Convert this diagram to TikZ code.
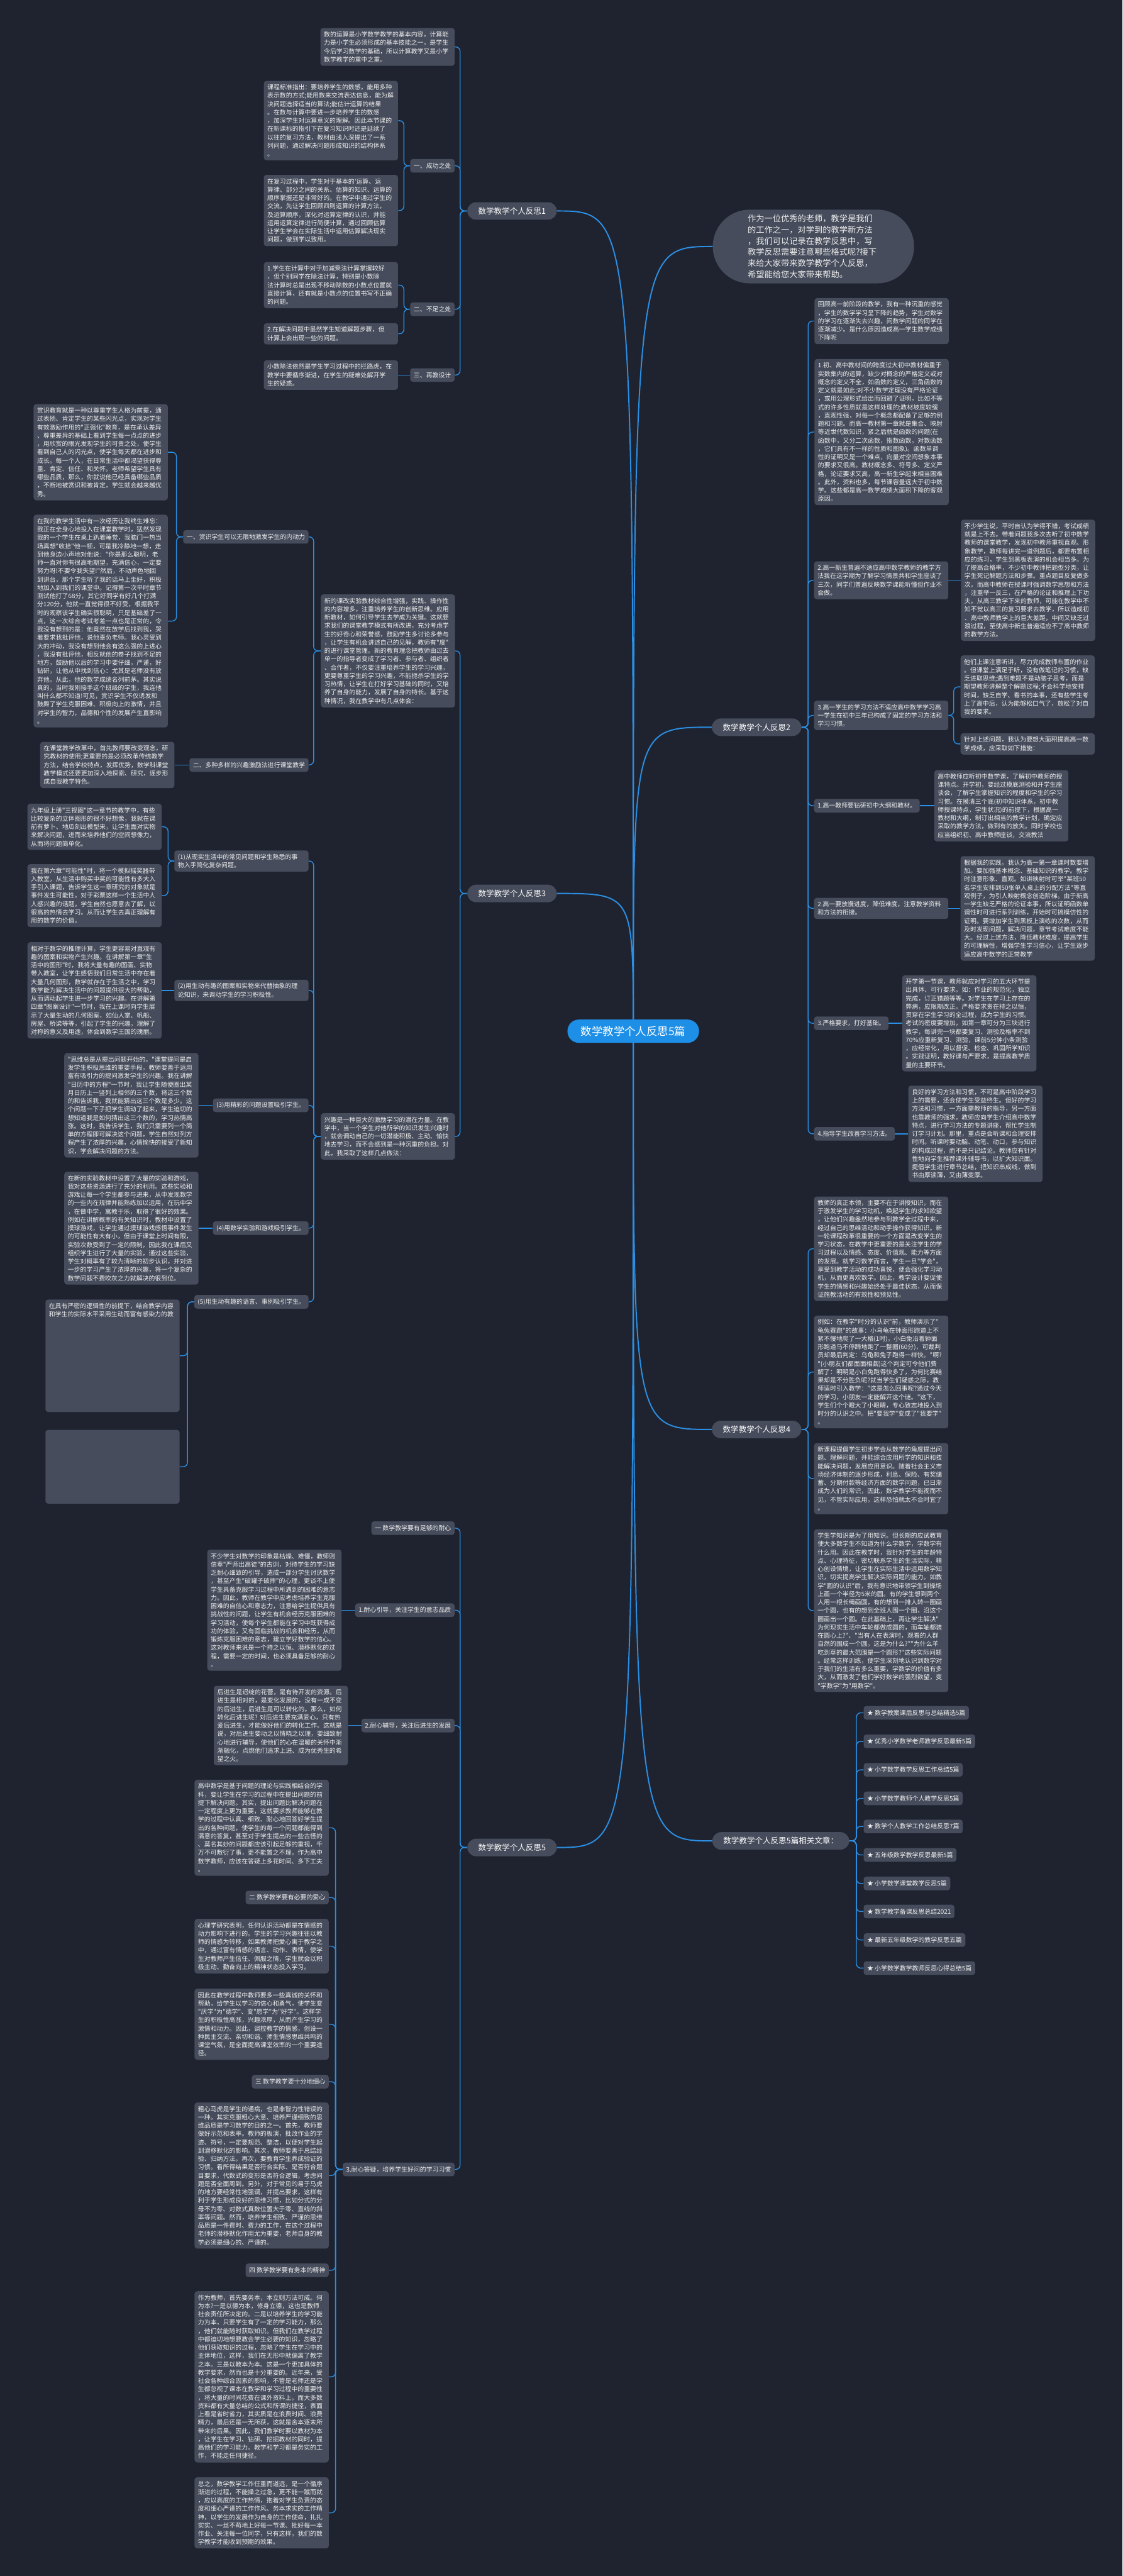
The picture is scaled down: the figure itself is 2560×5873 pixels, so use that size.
\documentclass[tikz,border=0pt]{standalone}
\usepackage{fontspec}
\setmainfont{Noto Sans CJK SC}[Ligatures=TeXOff]
\definecolor{bgcol}{HTML}{1F2330}
\definecolor{boxcol}{HTML}{464C5B}
\definecolor{linecol}{HTML}{2B8FE3}
\definecolor{rootcol}{HTML}{1E8FE6}
\definecolor{txtcol}{HTML}{EEEEEE}
\newcommand{\boxfont}{\fontsize{7.1pt}{9.5pt}\selectfont}
\newcommand{\branchfont}{\fontsize{9pt}{11pt}\selectfont}
\newcommand{\introfont}{\fontsize{9.5pt}{12.65pt}\selectfont}
\newcommand{\rootfont}{\fontsize{12.5pt}{14pt}\selectfont}

\begin{document}
\begin{tikzpicture}[x=0.5pt, y=-0.5pt,
    box/.style={fill=boxcol, text=txtcol, rounded corners=3pt, inner xsep=4pt, inner ysep=4pt, text width=145pt, align=left, font=\boxfont},
    lbl/.style={fill=boxcol, text=txtcol, rounded corners=3pt, inner xsep=4pt, inner ysep=4pt, minimum height=15.5pt, font=\boxfont},
    branch/.style={fill=boxcol, text=white, rounded corners=10pt, inner xsep=12.5pt, minimum height=20pt, font=\branchfont},
    root/.style={fill=rootcol, text=white, rounded corners=13pt, minimum width=150pt, minimum height=26.5pt, font=\rootfont},
    intro/.style={fill=boxcol, text=txtcol, rounded corners=42pt, minimum width=229.5pt, minimum height=84pt, text width=150pt, align=left, font=\introfont},
    conn/.style={draw=linecol, line width=1pt, rounded corners=5pt},
    mainline/.style={draw=linecol, line width=1.4pt}
    ]

    \useasboundingbox (0,0) rectangle (2560,5873);
    \fill[bgcol] (0,0) rectangle (2560,5873);
    \coordinate (hub) at (1444, 2351);

    %Nodes - 反思1
    \node[branch, anchor=east] at (1270, 481) (r1) {数学教学个人反思1};
    \node[box, anchor=east] at (1037, 107) (A) {数的运算是小学数学教学的基本内容，计算能\\力是小学生必须形成的基本技能之一，是学生\\今后学习数学的基础，所以计算教学又是小学\\数学教学的重中之重。};
    \node[lbl, anchor=east] at (1037, 378) (L1a) {一、成功之处};
    \node[box, anchor=east] at (908, 275) (B) {课程标准指出：要培养学生的数感，能用多种\\表示数的方式;能用数来交流表达信息，能为解\\决问题选择适当的算法;能估计运算的结果\\。在数与计算中要进一步培养学生的数感\\，加深学生对运算意义的理解。因此本节课的\\在新课标的指引下在复习知识时还是延续了\\以往的复习方法，教材由浅入深提出了一系\\列问题，通过解决问题形成知识的结构体系\\。};
    \node[box, anchor=east] at (908, 480) (C) {在复习过程中，学生对于基本的'运算、运\\算律、部分之间的关系、估算的知识、运算的\\顺序掌握还是非常好的。在教学中通过学生的\\交流，先让学生回顾四则运算的计算方法，\\及运算顺序，深化对运算定律的认识，并能\\运用运算定律进行简便计算，通过回顾估算\\让学生学会在实际生活中运用估算解决现实\\问题，做到学以致用。};
    \node[lbl, anchor=east] at (1037, 705) (L1b) {二、不足之处};
    \node[box, anchor=east] at (908, 650) (D) {1.学生在计算中对于加减乘法计算掌握较好\\，但个别同学在除法计算，特别是小数除\\法计算时总是出现不移动除数的小数点位置就\\直接计算，还有就是小数点的位置书写不正确\\的问题。};
    \node[box, anchor=east] at (908, 761) (E) {2.在解决问题中虽然学生知道解题步骤，但\\计算上会出现一些的问题。};
    \node[lbl, anchor=east] at (1037, 855) (L1c) {三、再教设计};
    \node[box, anchor=east] at (908, 855) (F) {小数除法依然是学生学习过程中的拦路虎，在\\教学中要循序渐进，在学生的疑难处解开学\\生的疑惑。};

    %Nodes - 反思3
    \node[branch, anchor=east] at (1270, 2037) (r3) {数学教学个人反思3};
    \node[box, anchor=east] at (1038, 1484) (N1) {新的课改实验教材综合性增强，实践、操作性\\的内容增多，注重培养学生的创新思维。应用\\新教材，如何引导学生去学成为关键。这就要\\求我们的课堂教学模式有所改进，充分考虑学\\生的好奇心和荣誉感，鼓励学生多讨论多参与\\，让学生有机会讲述自己的见解，教师有"度"\\的进行课堂管理。新的教育理念把教师由过去\\单一的指导者变成了学习者、参与者、组织者\\、合作者，不仅要注重培养学生的学习兴趣，\\更要尊重学生的学习兴趣，不能扼杀学生的学\\习热情，让学生在打好学习基础的同时，又培\\养了自身的能力，发展了自身的特长。基于这\\种情况，我在教学中有几点体会：};
    \node[lbl, anchor=east] at (704, 1224) (S1) {一、赏识学生可以无限地激发学生的内动力};
    \node[box, anchor=east] at (383, 1031) (S1a) {赏识教育就是一种以尊重学生人格为前提，通\\过表扬、肯定学生的某些闪光点，实现对学生\\有效激励作用的"正强化"教育，是在承认差异\\、尊重差异的基础上看到学生每一点点的进步\\，用欣赏的眼光发现学生的可贵之处，使学生\\看到自己人的闪光点，使学生每天都在进步和\\成长。每一个人，在日常生活中都渴望获得尊\\重、肯定、信任、和关怀。老师希望学生具有\\哪些品质，那么，你就说他已经具备哪些品质\\，不断地被赏识和被肯定，学生就会越来越优\\秀。};
    \node[box, anchor=east] at (383, 1416) (S1b) {在我的教学生活中有一次经历让我终生难忘：\\我正在全身心地投入在课堂教学时，猛然发现\\我的一个学生在桌上趴着睡觉，我脑门一热当\\场真想"收拾"他一顿，可是我冷静地一想，走\\到他身边小声地对他说："你是那么聪明，老\\师一直对你有很高地期望，充满信心，一定要\\努力呀!不要令我失望!"然后，不动声色地回\\到讲台，那个学生听了我的话马上坐好，积极\\地加入到我们的课堂中。记得第一次平时章节\\测试他打了68分，其它好同学有好几个打满\\分120分，他就一直觉得很不好受，根据我平\\时的观察该学生确实很聪明，只是基础差了一\\点，这一次综合考试考差一点也是正常的，令\\我没有想到的是：他竟然在放学后找到我，哭\\着要求我批评他，说他辜负老师。我心灵受到\\大的冲动，我没有想到他会有这么强的上进心\\，我没有批评他，相反就他的卷子找到不足的\\地方，鼓励他以后的学习中要仔细，严谨，好\\钻研，让他从中找到信心：尤其是老师没有放\\弃他。从此，他的数学成绩名列前茅。其实说\\真的，当时我刚接手这个班级的学生，我连他\\叫什么都不知道!可见，赏识学生不仅诱发和\\鼓舞了学生克服困难、积极向上的激情，并且\\对学生的智力，品德和个性的发展产生直影响\\。};
    \node[lbl, anchor=east] at (704, 1744) (S2) {二、多种多样的兴趣激励法进行课堂教学};
    \node[box, anchor=east] at (398, 1744) (S2a) {在课堂教学改革中，首先教师要改变观念，研\\究教材的使用;更重要的是必须改革传统教学\\方法，结合学校特点，发挥优势，数学科课堂\\教学模式还要更加深入地探索、研究，逐步形\\成自我教学特色。};
    \node[box, anchor=east] at (1038, 2591) (N2) {兴趣是一种巨大的激励学习的潜在力量。在教\\学中，当一个学生对他所学的知识发生兴趣时\\，就会调动自己的一切潜能积极、主动、愉快\\地去学习，而不会感到是一种沉重的负担。对\\此，我采取了这样几点做法：};
    \node[box, anchor=east] at (704, 1963) (P1) {(1)从现实生活中的常见问题和学生熟悉的事\\物入手简化复杂问题。};
    \node[box, anchor=east] at (369, 1885) (P1a) {九年级上册"三视图"这一章节的教学中，有些\\比较复杂的立体图形的很不好想像，我就在课\\前有萝卜、地瓜刻出模型来，让学生面对实物\\来解决问题，进而来培养他们的空间想像力，\\从而将问题简单化。};
    \node[box, anchor=east] at (369, 2042) (P1b) {我在第六章"可能性"时，将一个模拟摇奖器带\\入教室，从生活中购买中奖的可能性有多大入\\手引入课题，告诉学生这一章研究的对象就是\\事件发生可能性。对于彩票这样一个生活中人\\人感兴趣的话题，学生自然也愿意去了解，以\\很高的热情去学习。从而让学生去真正理解有\\用的数学的价值。};
    \node[box, anchor=east] at (704, 2258) (P2) {(2)用生动有趣的图案和实物来代替抽象的理\\论知识，来调动学生的学习积极性。};
    \node[box, anchor=east] at (369, 2258) (P2a) {相对于数学的推理计算，学生更容易对直观有\\趣的图案和实物产生兴趣。在讲解第一章"生\\活中的图形"时，我将大量有趣的图画、实物\\带入教室，让学生感悟我们日常生活中存在着\\大量几何图形，数学就存在于生活之中，学习\\数学能为解决生活中的问题提供很大的帮助，\\从而调动起学生进一步学习的兴趣。在讲解第\\四章"图案设计"一节时，我在上课时向学生展\\示了大量生动的几何图案，如仙人掌、帆船、\\房屋、桥梁等等，引起了学生的兴趣，理解了\\对称的意义及用途，体会到数学王国的瑰丽。};
    \node[lbl, anchor=east] at (704, 2520) (P3) {(3)用精彩的问题设置吸引学生。};
    \node[box, anchor=east] at (453, 2520) (P3a) {"思维总是从提出问题开始的。"课堂提问是启\\发学生积极思维的重要手段，教师要善于运用\\富有吸引力的提问激发学生的兴趣。我在讲解\\"日历中的方程"一节时，我让学生随便圈出某\\月日历上一竖列上相邻的三个数，将这三个数\\的和告诉我，我就能猜出这三个数是多少。这\\个问题一下子把学生调动了起来，学生迫切的\\想知道我是如何猜出这三个数的，学习热情高\\涨。这时，我告诉学生，我们只需要列一个简\\单的方程即可解决这个问题，学生自然对列方\\程产生了浓厚的兴趣，心情愉快的接受了新知\\识，学会解决问题的方法。};
    \node[lbl, anchor=east] at (704, 2800) (P4) {(4)用数学实验和游戏吸引学生。};
    \node[box, anchor=east] at (453, 2800) (P4a) {在新的实验教材中设置了大量的实验和游戏，\\我对这些资源进行了充分的利用。这些实验和\\游戏让每一个学生都参与进来，从中发现数学\\的一些内在规律并能熟练加以运用，在玩中学\\，在做中学，寓教于乐，取得了很好的效果。\\例如在讲解概率的有关知识时，教材中设置了\\摸球游戏，让学生通过摸球游戏感悟事件发生\\的可能性有大有小，但由于课堂上时间有限，\\实验次数受到了一定的限制，因此我在课后又\\组织学生进行了大量的实验，通过这些实验，\\学生对概率有了较为清晰的初步认识，并对进\\一步的学习产生了浓厚的兴趣，将一个复杂的\\数学问题不费吹灰之力就解决的很到位。};
    \node[lbl, anchor=east] at (704, 2968) (P5) {(5)用生动有趣的语言、事例吸引学生。};
    \node[box, anchor=east] at (410, 3091) (P5a) {在具有严密的逻辑性的前提下，结合教学内容\\和学生的实际水平采用生动而富有感染力的教\\~\\~\\~\\~\\~\\~\\~\\~\\~\\~\\~};
    \node[box, anchor=east] at (410, 3344) (P5b) {~\\~\\~\\~\\~\\~\\~\\~\\~};

    %Nodes - 反思5
    \node[branch, anchor=east] at (1270, 4212) (r5) {数学教学个人反思5};
    \node[lbl, anchor=east] at (1037, 3484) (F1) {一 数学教学要有足够的耐心};
    \node[lbl, anchor=east] at (1037, 3671) (F2) {1.耐心引导，关注学生的意志品质};
    \node[box, anchor=east] at (779, 3671) (F2a) {不少学生对数学的印象是枯燥、难懂，教师则\\信奉"严师出高徒"的古训，对待学生的学习缺\\乏耐心细致的引导，造成一部分学生讨厌数学\\，甚至产生"破罐子破摔"的心理，更谈不上使\\学生具备克服学习过程中所遇到的困难的意志\\力。因此，教师在教学中应考虑培养学生克服\\困难的自信心和意志力，注意给学生提供具有\\挑战性的问题，让学生有机会经历克服困难的\\学习活动，使每个学生都能在学习中既获得成\\功的体验，又有面临挑战的机会和经历，从而\\锻炼克服困难的意志，建立学好数学的信心。\\这对教师来说是一个持之以恒、潜移默化的过\\程，需要一定的时间，也必须具备足够的耐心\\。};
    \node[lbl, anchor=east] at (1037, 3934) (F3) {2.耐心辅导，关注后进生的发展};
    \node[box, anchor=east] at (794, 3934) (F3a) {后进生是迟绽的花蕾，是有待开发的资源。后\\进生是相对的，是变化发展的，没有一成不变\\的后进生，后进生是可以转化的。那么，如何\\转化后进生呢?~对后进生要充满爱心，只有热\\爱后进生，才能做好他们的转化工作。这就是\\说，对后进生要动之以情晓之以理，要细致耐\\心地进行辅导，使他们的心在温暖的关怀中渐\\渐融化，点燃他们追求上进、成为优秀生的希\\望之火。};
    \node[lbl, anchor=east] at (1037, 4946) (F4) {3.耐心答疑，培养学生好问的学习习惯};
    \node[box, anchor=east] at (750, 4167) (G1) {高中数学是基于问题的理论与实践相结合的学\\科，要让学生在学习的过程中在提出问题的前\\提下解决问题。其实，提出问题比解决问题在\\一定程度上更为重要，这就要求教师能够在教\\学的过程中认真、细致、耐心地回答好学生提\\出的各种问题，使学生的每一个问题都能得到\\满意的答复，甚至对于学生提出的一些古怪的\\、莫名其妙的问题都应该引起足够的重视，千\\万不可敷衍了事，更不能置之不理。作为高中\\数学教师，应该在答疑上多花时间、多下工夫\\。};
    \node[lbl, anchor=east] at (750, 4326) (G2) {二 数学教学要有必要的爱心};
    \node[box, anchor=east] at (750, 4437) (G3) {心理学研究表明，任何认识活动都是在情感的\\动力影响下进行的。学生的学习兴趣往往以教\\师的情感为转移，如果教师把爱心寓于教学之\\中，通过富有情感的语言、动作、表情，使学\\生对教师产生信任、佩服之情，学生就会以积\\极主动、勤奋向上的精神状态投入学习。};
    \node[box, anchor=east] at (750, 4615) (G4) {因此在教学过程中教师要多一些真诚的关怀和\\帮助，给学生以学习的信心和勇气，使学生变\\"厌学"为"德学"、变"愿学"为"好学"。这样学\\生的积极性高涨，兴趣浓厚，从而产生学习的\\激情和动力。因此，调控教学的情感，创设一\\种民主交流、亲切和谐、师生情感思维共鸣的\\课堂气氛，是全面提高课堂效率的一个重要途\\径。};
    \node[lbl, anchor=east] at (750, 4746) (G5) {三 数学教学要十分地细心};
    \node[box, anchor=east] at (750, 4960) (G6) {粗心马虎是学生的通病，也是非智力性错误的\\一种。其实克服粗心大意、培养严谨细致的思\\维品质是学习数学的目的之一。首先，教师要\\做好示范和表率。教师的板演，批改作业的字\\迹、符号，一定要规范、整洁，以便对学生起\\到潜移默化的影响。其次，教师要善于总结经\\验、归纳方法。再次，要教育学生养成验证的\\习惯。看所得结果是否符合实际、是否符合题\\目要求，代数式的变形是否符合逻辑，考虑问\\题是否全面周到。另外，对于常见的易于马虎\\的地方要经常性地强调，并提出要求，这样有\\利于学生形成良好的思维习惯，比如分式的分\\母不为零、对数式真数位置大于零、直线的斜\\率等问题。然而，培养学生细致、严谨的思维\\品质是一件费时、费力的工作，在这个过程中\\老师的潜移默化作用尤为重要，老师自身的教\\学必须是细心的、严谨的。};
    \node[lbl, anchor=east] at (750, 5176) (G7) {四 数学教学要有务本的精神};
    \node[box, anchor=east] at (750, 5419) (G8) {作为教师，首先要务本，本立则万法可成。何\\为本?一是以德为本，修身立德，这也是教师\\社会责任所决定的。二是以培养学生的学习能\\力为本，只要学生有了一定的学习能力，那么\\，他们就能随时获取知识。但我们在教学过程\\中都迫切地想要教会学生必要的知识，忽略了\\他们获取知识的过程，忽略了学生在学习中的\\主体地位，这样，我们在无形中就偏离了教学\\之本。三是以教本为本。这是一个更加具体的\\教学要求，然而也是十分重要的。近年来，受\\社会各种综合因素的影响，不管是老师还是学\\生都忽视了课本在教学和学习过程中的重要性\\，将大量的时间花费在课外资料上。而大多数\\资料都有大量总结的公式和所谓的捷径，表面\\上看是省时省力，其实质是在浪费时间、浪费\\精力，最后还是一无所获，这就是舍本逐末所\\带来的后果。因此，我们教学时要以教材为本\\，让学生在学习、钻研、挖掘教材的同时，提\\高他们的学习能力。教学和学习都是务实的工\\作，不能走任何捷径。};
    \node[box, anchor=east] at (750, 5729) (G9) {总之，数学教学工作任重而道远，是一个循序\\渐进的过程，不能操之过急，更不能一蹴而就\\，应以高度的工作热情，抱着对学生负责的态\\度和细心严谨的工作作风、务本求实的工作精\\神，以学生的发展作为自身的工作使命，扎扎\\实实、一丝不苟地上好每一节课、批好每一本\\作业、关注每一位同学，只有这样，我们的数\\学教学才能收到预期的效果。};

    %Nodes - 右侧
    \node[intro, anchor=west] at (1625, 562) (intro) {作为一位优秀的老师，教学是我们\\的工作之一，对学到的教学新方法\\，我们可以记录在教学反思中，写\\教学反思需要注意哪些格式呢?接下\\来给大家带来数学教学个人反思，\\希望能给您大家带来帮助。};

    \node[branch, anchor=west] at (1623, 1658) (r2) {数学教学个人反思2};
    \node[box, anchor=west] at (1857, 732) (R1) {回顾高一前阶段的教学，我有一种沉重的感觉\\，学生的数学学习呈下降的趋势，学生对数学\\的学习在逐渐失去兴趣，问数学问题的同学在\\逐渐减少。是什么原因造成高一学生数学成绩\\下降呢};
    \node[box, anchor=west] at (1857, 985) (R2) {1.初、高中教材间的跨度过大初中教材偏重于\\实数集内的运算，缺少对概念的严格定义或对\\概念的定义不全，如函数的定义，三角函数的\\定义就是如此;对不少数学定理没有严格论证\\，或用公理形式给出而回避了证明，比如不等\\式的许多性质就是这样处理的;教材坡度较缓\\，直观性强，对每一个概念都配备了足够的例\\题和习题。而高一教材第一章就是集合、映射\\等近世代数知识，紧之后就是函数的问题(在\\函数中，又分二次函数，指数函数，对数函数\\，它们具有不一样的性质和图象)。函数单调\\性的证明又是一个难点，向量对空间想象本事\\的要求又很高。教材概念多、符号多、定义严\\格，论证要求又高，高一新生学起来相当困难\\。此外，资料也多，每节课容量远大于初中数\\学。这些都是高一数学成绩大面积下降的客观\\原因。};
    \node[box, anchor=west] at (1856, 1323) (R3) {2.高一新生普遍不适应高中数学教师的教学方\\法我在这学期为了解学习情景共和学生座谈了\\三次，同学们普遍反映数学课能听懂但作业不\\会做。};
    \node[box, anchor=west] at (2191, 1323) (R3a) {不少学生说，平时自认为学得不错，考试成绩\\就是上不去。带着问题我多次去听了初中数学\\教师的课堂教学，发现初中教师重视直观、形\\象教学，教师每讲完一道例题后，都要布置相\\应的练习，学生到黑板表演的机会相当多。为\\了提高合格率，不少初中教师把题型分类，让\\学生死记解题方法和步骤。重点题目反复做多\\次。而高中教师在授课时强调数学思想和方法\\，注重举一反三，在严格的论证和推理上下功\\夫。从高三教学下来的教师，可能在教学中不\\知不觉以高三的复习要求去教学，所以造成初\\、高中教师教学上的巨大差距，中间又缺乏过\\渡过程，至使高中新生普遍适应不了高中教师\\的教学方法。};
    \node[box, anchor=west] at (1856, 1631) (R4) {3.高一学生的学习方法不适应高中数学学习高\\一学生在初中三年已构成了固定的学习方法和\\学习习惯。};
    \node[box, anchor=west] at (2190, 1566) (R4a) {他们上课注意听讲，尽力完成教师布置的作业\\。但课堂上满足于听，没有做笔记的习惯，缺\\乏进取思维;遇到难题不是动脑子思考，而是\\期望教师讲解整个解题过程;不会科学地安排\\时间，缺乏自学、看书的本事，还有些学生考\\上了高中后，认为能够松口气了，放松了对自\\我的要求。};
    \node[box, anchor=west] at (2190, 1696) (R4b) {针对上述问题，我认为要想大面积提高高一数\\学成绩，应采取如下措施：};
    \node[lbl, anchor=west] at (1856, 1837) (R5) {1.高一教师要钻研初中大纲和教材。};
    \node[box, anchor=west] at (2130, 1837) (R5a) {高中教师应听初中数学课，了解初中教师的授\\课特点。开学初，要经过摸底测验和开学生座\\谈会，了解学生掌握知识的程度和学生的学习\\习惯。在摸清三个底(初中知识体系，初中教\\师授课特点，学生状况)的前提下，根据高一\\教材和大纲，制订出相当的教学计划，确定应\\采取的教学方法，做到有的放矢。同时学校也\\应当组织初、高中教师座谈，交流教法};
    \node[box, anchor=west] at (1856, 2071) (R6) {2.高一要放慢进度，降低难度，注意教学资料\\和方法的衔接。};
    \node[box, anchor=west] at (2190, 2071) (R6a) {根据我的实践，我认为高一第一章课时数要增\\加。要加强基本概念、基础知识的教学。教学\\时注意形象、直观。如讲映射时可举"某班50\\名学生安排到50张单人桌上的分配方法"等直\\观例子，为引人映射概念创造阶梯。由于新高\\一学生缺乏严格的论证本事，所以证明函数单\\调性时可进行系列训练，开始时可搞模仿性的\\证明。要增加学生到黑板上演练的次数，从而\\及时发现问题，解决问题，章节考试难度不能\\大。经过上述方法，降低教材难度，提高学生\\的可理解性，增强学生学习信心，让学生逐步\\适应高中数学的正常教学};
    \node[lbl, anchor=west] at (1856, 2333) (R7) {3.严格要求，打好基础。};
    \node[box, anchor=west] at (2057, 2333) (R7a) {开学第一节课，教师就应对学习的五大环节提\\出具体、可行要求。如：作业的规范化，独立\\完成，订正错题等等。对学生在学习上存在的\\弊病，应限期改正。严格要求贵在持之以恒，\\贯穿在学生学习的全过程，成为学生的习惯。\\考试的密度要增加，如第一章可分为三块进行\\教学，每讲完一块都要复习、测验及格率不到\\70\%应重新复习、测验，课前5分钟小条测验\\，应经常化，用以督促、检查、巩固所学知识\\。实践证明，教好课与严要求，是提高教学质\\量的主要环节。};
    \node[lbl, anchor=west] at (1856, 2585) (R8) {4.指导学生改善学习方法。};
    \node[box, anchor=west] at (2071, 2585) (R8a) {良好的学习方法和习惯，不可是高中阶段学习\\上的需要，还会使学生受益终生。但好的学习\\方法和习惯，一方面需教师的指导，另一方面\\也靠教师的强求。教师应向学生介绍高中数学\\特点，进行学习方法的专题讲座，帮忙学生制\\订学习计划。那里，重点是会听课和合理安排\\时间。听课时要动脑、动笔、动口，参与知识\\的构成过程，而不是只记结论。教师应有针对\\性地向学生推荐课外辅导书，以扩大知识面。\\提倡学生进行章节总结，把知识串成线，做到\\书由厚读薄，又由薄变厚。};

    \node[branch, anchor=west] at (1623, 3259) (r4) {数学教学个人反思4};
    \node[box, anchor=west] at (1856, 2847) (Q1) {教师的真正本领，主要不在于讲授知识，而在\\于激发学生的学习动机，唤起学生的求知欲望\\，让他们兴趣盎然地参与到教学全过程中来，\\经过自己的思维活动和动手操作获得知识。新\\一轮课程改革很重要的一个方面是改变学生的\\学习状态，在教学中更重要的是关注学生的学\\习过程以及情感、态度、价值观、能力等方面\\的发展。就学习数学而言，学生一旦"学会"，\\享受到教学活动的成功喜悦，便会强化学习动\\机，从而更喜欢数学。因此，教学设计要促使\\学生的情感和兴趣始终处于最佳状态，从而保\\证施教活动的有效性和预见性。};
    \node[box, anchor=west] at (1856, 3128) (Q2) {例如：在教学"时分的认识"前，教师演示了"\\龟兔赛跑"的故事：小乌龟在钟面形跑道上不\\紧不慢地爬了一大格(1时)，小白兔沿着钟面\\形跑道马不停蹄地跑了一整圈(60分)，可裁判\\员却最后判定：乌龟和兔子跑得一样快。"啊?\\"(小朋友们都面面相觑)这个判定可令他们费\\解了：明明是小白兔跑得快多了，为何比赛结\\果却是不分胜负呢?就当学生们疑惑之际，教\\师适时引入教学："这是怎么回事呢?通过今天\\的学习，小朋友一定能解开这个谜。"这下，\\学生们个个瞪大了小眼睛，专心致志地投入到\\时分的认识之中。把"要我学"变成了"我要学"\\。};
    \node[box, anchor=west] at (1856, 3371) (Q3) {新课程提倡学生初步学会从数学的角度提出问\\题、理解问题，并能综合应用所学的知识和技\\能解决问题，发展应用意识。随着社会主义市\\场经济体制的逐步形成，利息、保险、有奖储\\蓄、分期付款等经济方面的数学问题，已日渐\\成为人们的常识，因此，数学教学不能视而不\\见，不管实际应用，这样恐怕就太不合时宜了\\。};
    \node[box, anchor=west] at (1856, 3672) (Q4) {学生学知识是为了用知识。但长期的应试教育\\使大多数学生不知道为什么学数学，学数学有\\什么用。因此在教学时，我针对学生的年龄特\\点、心理特征，密切联系学生的生活实际，精\\心创设情境，让学生在实际生活中运用数学知\\识，切实提高学生解决实际问题的能力。如教\\学"圆的认识"后，我有意识地带领学生到操场\\上画一个半径为5米的圆。有的学生想到两个\\人用一根长绳画圆，有的想到一排人转一圈画\\一个圆，也有的想到全班人围一个圈，沿这个\\圈画出一个圆。在此基础上，再让学生解决"\\为何现实生活中车轮都做成圆的，而车轴都装\\在圆心上?"、"当有人在表演时，观看的人群\\自然的围成一个圆，这是为什么?""为什么羊\\吃到草的最大范围是一个圆形?"这些实际问题\\。经常这样训练，使学生深刻地认识到数学对\\于我们的生活有多么重要，学数学的价值有多\\大，从而激发了他们学好数学的强烈欲望，变\\"学数学"为"用数学"。};

    \node[branch, anchor=west] at (1624, 4197) (rel) {数学教学个人反思5篇相关文章：};
    \node[lbl, anchor=west] at (1969, 3905) (k1) {★ 数学教案课后反思与总结精选5篇};
    \node[lbl, anchor=west] at (1969, 3970) (k2) {★ 优秀小学数学老师教学反思最新5篇};
    \node[lbl, anchor=west] at (1969, 4035) (k3) {★ 小学数学教学反思工作总结5篇};
    \node[lbl, anchor=west] at (1969, 4100) (k4) {★ 小学数学教师个人教学反思5篇};
    \node[lbl, anchor=west] at (1969, 4164) (k5) {★ 数学个人教学工作总结反思7篇};
    \node[lbl, anchor=west] at (1969, 4229) (k6) {★ 五年级数学教学反思最新5篇};
    \node[lbl, anchor=west] at (1969, 4294) (k7) {★ 小学数学课堂教学反思5篇};
    \node[lbl, anchor=west] at (1969, 4358) (k8) {★ 数学教学备课反思总结2021};
    \node[lbl, anchor=west] at (1969, 4423) (k9) {★ 最新五年级数学的教学反思五篇};
    \node[lbl, anchor=west] at (1969, 4487) (k10) {★ 小学数学教学教师反思心得总结5篇};

    %Lines - main branches
    \draw[mainline] (hub) .. controls (hub |- r1.east) .. (r1.east);
    \draw[mainline] (hub) .. controls (hub |- r3.east) .. (r3.east);
    \draw[mainline] (hub) .. controls (hub |- r5.east) .. (r5.east);
    \draw[mainline] (hub) .. controls (hub |- intro.west) .. (intro.west);
    \draw[mainline] (hub) .. controls (hub |- r2.west) .. (r2.west);
    \draw[mainline] (hub) .. controls (hub |- r4.west) .. (r4.west);
    \draw[mainline] (hub) .. controls (hub |- rel.west) .. (rel.west);
    \node[root] at (hub) (root) {数学教学个人反思5篇};

    %Lines - 反思1
    \draw[conn] (r1.west) -- ++(-16,0) |- (A.east);
    \draw[conn] (r1.west) -- ++(-16,0) |- (L1a.east);
    \draw[conn] (r1.west) -- ++(-16,0) |- (L1b.east);
    \draw[conn] (r1.west) -- ++(-16,0) |- (L1c.east);
    \draw[conn] (L1a.west) -- ++(-14,0) |- (B.east);
    \draw[conn] (L1a.west) -- ++(-14,0) |- (C.east);
    \draw[conn] (L1b.west) -- ++(-14,0) |- (D.east);
    \draw[conn] (L1b.west) -- ++(-14,0) |- (E.east);
    \draw[conn] (L1c.west) -- (F.east);

    %Lines - 反思3
    \draw[conn] (r3.west) -- ++(-16,0) |- (N1.east);
    \draw[conn] (r3.west) -- ++(-16,0) |- (N2.east);
    \draw[conn] (N1.west) -- ++(-16,0) |- (S1.east);
    \draw[conn] (N1.west) -- ++(-16,0) |- (S2.east);
    \draw[conn] (S1.west) -- ++(-15,0) |- (S1a.east);
    \draw[conn] (S1.west) -- ++(-15,0) |- (S1b.east);
    \draw[conn] (S2.west) -- (S2a.east);
    \draw[conn] (N2.west) -- ++(-16,0) |- (P1.east);
    \draw[conn] (N2.west) -- ++(-16,0) |- (P2.east);
    \draw[conn] (N2.west) -- ++(-16,0) |- (P3.east);
    \draw[conn] (N2.west) -- ++(-16,0) |- (P4.east);
    \draw[conn] (N2.west) -- ++(-16,0) |- (P5.east);
    \draw[conn] (P1.west) -- ++(-14,0) |- (P1a.east);
    \draw[conn] (P1.west) -- ++(-14,0) |- (P1b.east);
    \draw[conn] (P2.west) -- (P2a.east);
    \draw[conn] (P3.west) -- (P3a.east);
    \draw[conn] (P4.west) -- (P4a.east);
    \draw[conn] (P5.west) -- ++(-15,0) |- (P5a.east);
    \draw[conn] (P5.west) -- ++(-15,0) |- (P5b.east);

    %Lines - 反思5
    \draw[conn] (r5.west) -- ++(-16,0) |- (F1.east);
    \draw[conn] (r5.west) -- ++(-16,0) |- (F2.east);
    \draw[conn] (r5.west) -- ++(-16,0) |- (F3.east);
    \draw[conn] (r5.west) -- ++(-16,0) |- (F4.east);
    \draw[conn] (F2.west) -- (F2a.east);
    \draw[conn] (F3.west) -- (F3a.east);
    \draw[conn] (F4.west) -- ++(-16,0) |- (G1.east);
    \draw[conn] (F4.west) -- ++(-16,0) |- (G2.east);
    \draw[conn] (F4.west) -- ++(-16,0) |- (G3.east);
    \draw[conn] (F4.west) -- ++(-16,0) |- (G4.east);
    \draw[conn] (F4.west) -- ++(-16,0) |- (G5.east);
    \draw[conn] (F4.west) -- ++(-16,0) |- (G6.east);
    \draw[conn] (F4.west) -- ++(-16,0) |- (G7.east);
    \draw[conn] (F4.west) -- ++(-16,0) |- (G8.east);
    \draw[conn] (F4.west) -- ++(-16,0) |- (G9.east);

    %Lines - 反思2
    \draw[conn] (r2.east) -- ++(15,0) |- (R1.west);
    \draw[conn] (r2.east) -- ++(15,0) |- (R2.west);
    \draw[conn] (r2.east) -- ++(15,0) |- (R3.west);
    \draw[conn] (r2.east) -- ++(15,0) |- (R4.west);
    \draw[conn] (r2.east) -- ++(15,0) |- (R5.west);
    \draw[conn] (r2.east) -- ++(15,0) |- (R6.west);
    \draw[conn] (r2.east) -- ++(15,0) |- (R7.west);
    \draw[conn] (r2.east) -- ++(15,0) |- (R8.west);
    \draw[conn] (R3.east) -- (R3a.west);
    \draw[conn] (R4.east) -- ++(12,0) |- (R4a.west);
    \draw[conn] (R4.east) -- ++(12,0) |- (R4b.west);
    \draw[conn] (R5.east) -- (R5a.west);
    \draw[conn] (R6.east) -- (R6a.west);
    \draw[conn] (R7.east) -- (R7a.west);
    \draw[conn] (R8.east) -- (R8a.west);

    %Lines - 反思4
    \draw[conn] (r4.east) -- ++(15,0) |- (Q1.west);
    \draw[conn] (r4.east) -- ++(15,0) |- (Q2.west);
    \draw[conn] (r4.east) -- ++(15,0) |- (Q3.west);
    \draw[conn] (r4.east) -- ++(15,0) |- (Q4.west);

    %Lines - 相关文章
    \draw[conn] (rel.east) -- ++(16,0) |- (k1.west);
    \draw[conn] (rel.east) -- ++(16,0) |- (k2.west);
    \draw[conn] (rel.east) -- ++(16,0) |- (k3.west);
    \draw[conn] (rel.east) -- ++(16,0) |- (k4.west);
    \draw[conn] (rel.east) -- ++(16,0) |- (k5.west);
    \draw[conn] (rel.east) -- ++(16,0) |- (k6.west);
    \draw[conn] (rel.east) -- ++(16,0) |- (k7.west);
    \draw[conn] (rel.east) -- ++(16,0) |- (k8.west);
    \draw[conn] (rel.east) -- ++(16,0) |- (k9.west);
    \draw[conn] (rel.east) -- ++(16,0) |- (k10.west);
\end{tikzpicture}
\end{document}
